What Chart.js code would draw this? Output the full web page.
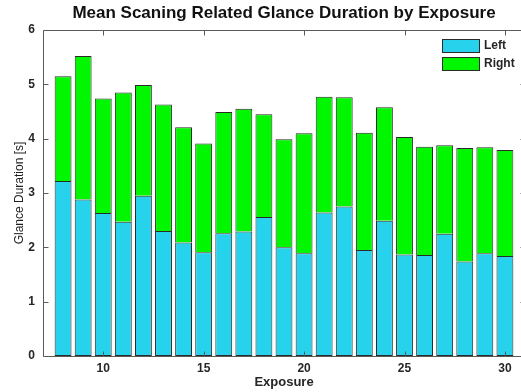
<!DOCTYPE html>
<html>
<head>
<meta charset="utf-8">
<script src="https://cdn.jsdelivr.net/npm/chart.js@4"></script>
<style>
  html, body { margin: 0; padding: 0; background: #fff; overflow: hidden; }
  #wrap { width: 568px; height: 392px; }
</style>
</head>
<body>
<div id="wrap"><canvas id="c" width="568" height="392"></canvas></div>
<script>
// Exposure index for each bar
const exposures = [8, 9, 10, 11, 12, 13, 14, 15, 16, 17, 18, 19, 20, 21, 22, 23, 24, 25, 26, 27, 28, 29, 30];
// Mean glance duration toward the left [s]
const leftDur = [3.22, 2.88, 2.63, 2.47, 2.95, 2.30, 2.09, 1.91, 2.26, 2.29, 2.56, 2.00, 1.89, 2.64, 2.75, 1.95, 2.49, 1.87, 1.86, 2.25, 1.74, 1.89, 1.84];
// Mean glance duration toward the right [s]
const rightDur = [1.93, 2.64, 2.11, 2.38, 2.04, 2.33, 2.12, 2.00, 2.23, 2.26, 1.89, 1.99, 2.21, 2.13, 2.01, 2.16, 2.09, 2.16, 1.99, 1.63, 2.09, 1.95, 1.95];
// Tick labels
const xTicks = [10, 15, 20, 25, 30];
const yTicks = [0, 1, 2, 3, 4, 5, 6];

const axisColor = '#5a5a5a';
const textColor = '#262626';
const edgeColor = '#2a2a2a';

// Box around the axes with inward-pointing tick marks on all four sides
const boxTicks = {
  id: 'boxTicks',
  afterDatasetsDraw(chart) {
    const { ctx, chartArea: a, scales: { x, y } } = chart;
    const len = 5;
    const L = Math.round(a.left) + 0.5, R = Math.round(a.right) + 0.5;
    const T = Math.round(a.top) + 0.5, B = Math.round(a.bottom) + 0.5;
    ctx.save();
    ctx.strokeStyle = axisColor;
    ctx.lineWidth = 1;
    ctx.beginPath();
    xTicks.forEach(v => {
      const px = Math.round(x.getPixelForValue(v)) + 0.5;
      ctx.moveTo(px, B); ctx.lineTo(px, B - len);
      ctx.moveTo(px, T); ctx.lineTo(px, T + len);
    });
    yTicks.forEach(v => {
      const py = Math.round(y.getPixelForValue(v)) + 0.5;
      ctx.moveTo(L, py); ctx.lineTo(L + len, py);
      ctx.moveTo(R, py); ctx.lineTo(R - len, py);
    });
    ctx.moveTo(L, T); ctx.lineTo(R, T); ctx.lineTo(R, B); ctx.lineTo(L, B); ctx.closePath();
    ctx.stroke();
    ctx.restore();
  }
};

// Legend drawn in the upper-right corner of the plot area
const innerLegend = {
  id: 'innerLegend',
  afterDraw(chart) {
    const { ctx, chartArea: a } = chart;
    const x0 = a.right - 83, y0 = a.top + 9;
    ctx.save();
    ctx.font = 'bold 12px "Liberation Sans", Arial, sans-serif';
    ctx.textBaseline = 'middle';
    chart.data.datasets.forEach((ds, i) => {
      const yy = y0 + i * 18;
      ctx.fillStyle = ds.backgroundColor;
      ctx.fillRect(x0, yy, 37, 13);
      ctx.strokeStyle = edgeColor;
      ctx.lineWidth = 1;
      ctx.strokeRect(x0 + 0.5, yy + 0.5, 37, 13);
      ctx.fillStyle = textColor;
      ctx.fillText(ds.label, x0 + 42, yy + 7);
    });
    ctx.restore();
  }
};

new Chart(document.getElementById('c'), {
  type: 'bar',
  data: {
    datasets: [
      {
        label: 'Left',
        data: exposures.map((e, i) => ({ x: e, y: leftDur[i] })),
        backgroundColor: '#27D3EC',
        borderColor: edgeColor,
        borderWidth: 1,
        borderSkipped: false
      },
      {
        label: 'Right',
        data: exposures.map((e, i) => ({ x: e, y: rightDur[i] })),
        backgroundColor: '#00F700',
        borderColor: edgeColor,
        borderWidth: 1,
        borderSkipped: 'start'
      }
    ]
  },
  options: {
    responsive: false,
    animation: false,
    events: [],
    layout: { padding: { left: 0, right: 43, top: 0, bottom: 0 } },
    datasets: { bar: { categoryPercentage: 1, barPercentage: 0.84 } },
    plugins: {
      legend: { display: false },
      tooltip: { enabled: false },
      title: {
        display: true,
        fullSize: false,
        text: 'Mean Scaning Related Glance Duration by Exposure',
        color: '#111',
        font: { family: '"Liberation Sans", Arial, sans-serif', size: 17, weight: 'bold', lineHeight: 1.2 },
        padding: { top: 3, bottom: 6.6 }
      }
    },
    scales: {
      x: {
        type: 'linear',
        stacked: true,
        offset: false,
        min: 7,
        max: 31,
        afterBuildTicks: s => { s.ticks = xTicks.map(v => ({ value: v })); },
        afterFit: s => { s.height = 36; },
        grid: { display: false, drawTicks: false, offset: false },
        border: { display: false },
        ticks: {
          padding: 5,
          color: textColor,
          maxRotation: 0,
          font: { family: '"Liberation Sans", Arial, sans-serif', size: 12, weight: 'bold' }
        },
        title: {
          display: true,
          text: 'Exposure',
          color: textColor,
          padding: { top: 2, bottom: 2 },
          font: { family: '"Liberation Sans", Arial, sans-serif', size: 13, weight: 'bold', lineHeight: 1.2 }
        }
      },
      y: {
        stacked: true,
        min: 0,
        max: 6,
        afterBuildTicks: s => { s.ticks = yTicks.map(v => ({ value: v })); },
        afterFit: s => { s.width = 43; },
        grid: { display: false, drawTicks: false },
        border: { display: false },
        ticks: {
          padding: 8,
          color: textColor,
          font: { family: '"Liberation Sans", Arial, sans-serif', size: 12, weight: 'bold' }
        },
        title: {
          display: true,
          text: 'Glance Duration [s]',
          color: '#1e1e1e',
          padding: { top: 12, bottom: 0 },
          font: { family: '"Liberation Sans", Arial, sans-serif', size: 12, weight: 'normal', lineHeight: 1.2 }
        }
      }
    }
  },
  plugins: [boxTicks, innerLegend]
});
</script>
</body>
</html>
